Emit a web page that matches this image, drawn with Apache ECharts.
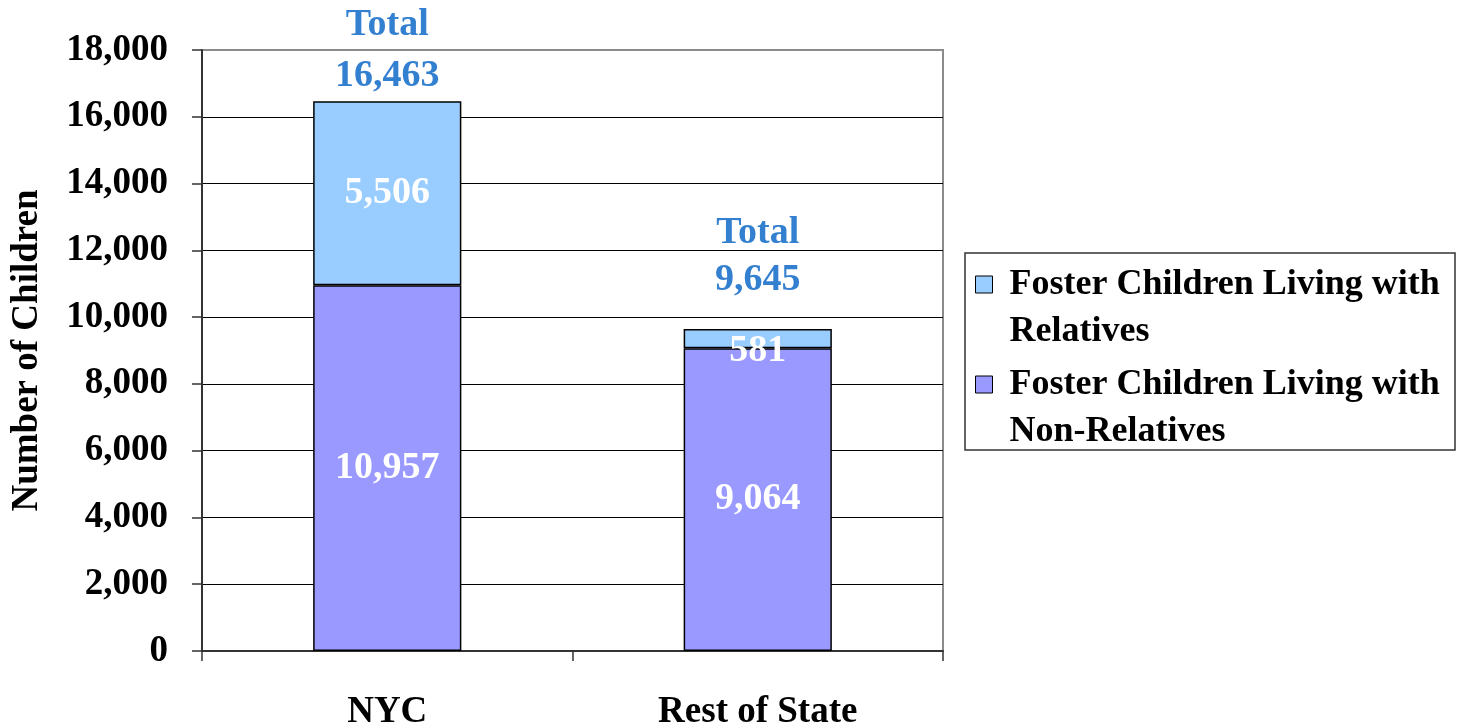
<!DOCTYPE html>
<html>
<head>
<meta charset="utf-8">
<script src="https://cdn.jsdelivr.net/npm/echarts@6/dist/echarts.min.js"></script>
<style>
  html, body { margin: 0; padding: 0; background: #fff; }
  #chart { width: 1463px; height: 727px; }
</style>
</head>
<body>
<div id="chart"></div>
<script>
var regions = ['NYC', 'Rest of State'];
var relatives = [5506, 581];
var nonRelatives = [10957, 9064];
var totals = [16463, 9645];
var yTicks = [0, 2000, 4000, 6000, 8000, 10000, 12000, 14000, 16000, 18000];

var FONT = 'Liberation Serif';
function fmt(v) { return Number(v).toLocaleString('en-US'); }

var myChart = echarts.init(document.getElementById('chart'));

// 上面那根18000的线是灰色的，其余黑色
var splitColors = yTicks.map(function (t, i) { return i === yTicks.length - 1 ? '#8c8c8c' : '#000'; });

var option = {
    backgroundColor: '#fff',
    animation: false,
    grid: {
        left: 202, right: 520, top: 50, bottom: 76,
        outerBoundsMode: 'none',
        show: true, borderColor: '#8c8c8c', borderWidth: 2
    },
    legend: {
        orient: 'vertical',
        left: 975, top: 214,
        padding: 0,
        itemGap: -41,
        itemWidth: 17, itemHeight: 17,
        icon: 'rect',
        data: ['Foster Children Living with Relatives', 'Foster Children Living with Non-Relatives'],
        // 前面空一行，让图标对齐第一行文字
        formatter: function (name) {
            return ' \n' + name.replace('Living with ', 'Living with\n');
        },
        itemStyle: { borderColor: '#000', borderWidth: 1 },
        textStyle: {
            fontFamily: FONT, fontWeight: 'bold', fontSize: 36, color: '#000',
            lineHeight: 47, padding: [0, 0, 0, 12]
        }
    },
    graphic: [{
        type: 'rect',
        shape: { x: 965, y: 253, width: 490, height: 197 },
        style: { fill: 'none', stroke: '#333', lineWidth: 1.5 },
        z: 0
    }],
    xAxis: {
        type: 'category',
        data: regions,
        axisLine: { lineStyle: { color: '#333', width: 2 } },
        axisTick: { show: true, length: 10, lineStyle: { color: '#333', width: 1.5 } },
        axisLabel: {
            margin: 43, color: '#000', fontFamily: FONT, fontWeight: 'bold', fontSize: 37
        }
    },
    yAxis: {
        type: 'value',
        min: 0, max: 18000, interval: 2000,
        name: 'Number of Children',
        nameLocation: 'middle',
        nameGap: 156,
        nameRotate: 90,
        nameMoveOverlap: false,
        nameTextStyle: { fontFamily: FONT, fontWeight: 'bold', fontSize: 37, color: '#000' },
        axisLine: { show: true, lineStyle: { color: '#333', width: 2 } },
        axisTick: { show: true, length: 10, lineStyle: { color: '#333', width: 1.5 } },
        splitLine: { show: true, lineStyle: { color: splitColors, width: 1.2 } },
        axisLabel: {
            margin: 34, color: '#000', fontFamily: FONT, fontWeight: 'bold', fontSize: 37,
            formatter: fmt
        }
    },
    series: [{
        name: 'Foster Children Living with Non-Relatives',
        type: 'bar',
        stack: 'total',
        barWidth: '40%',
        data: nonRelatives,
        itemStyle: { color: '#9999FF', borderColor: '#000', borderWidth: 1.5 },
        label: {
            show: true, position: 'inside', color: '#fff',
            fontFamily: FONT, fontWeight: 'bold', fontSize: 38,
            formatter: function (p) { return fmt(p.value); }
        }
    }, {
        name: 'Foster Children Living with Relatives',
        type: 'bar',
        stack: 'total',
        barWidth: '40%',
        data: relatives.map(function (v, i) {
            // 581那个标签往下挪了一点
            return i === 1 ? { value: v, label: { offset: [0, 13] } } : v;
        }),
        itemStyle: { color: '#99CCFF', borderColor: '#000', borderWidth: 1.5 },
        label: {
            show: true, position: 'inside', color: '#fff',
            fontFamily: FONT, fontWeight: 'bold', fontSize: 38,
            formatter: function (p) { return fmt(p.value); }
        }
    }, {
        name: 'Total',
        type: 'scatter',
        symbolSize: 0,
        silent: true,
        data: totals.map(function (v, i) {
            return {
                value: v,
                label: i === 0 ? { lineHeight: 51, offset: [0, 4] } : { lineHeight: 47, offset: [0, -21] }
            };
        }),
        label: {
            show: true, position: 'top', distance: 4, color: '#005FC4',
            fontFamily: FONT, fontWeight: 'bold', fontSize: 38, lineHeight: 50,
            formatter: function (p) { return 'Total\n' + fmt(p.value); }
        }
    }]
};

myChart.setOption(option);
</script>
</body>
</html>
